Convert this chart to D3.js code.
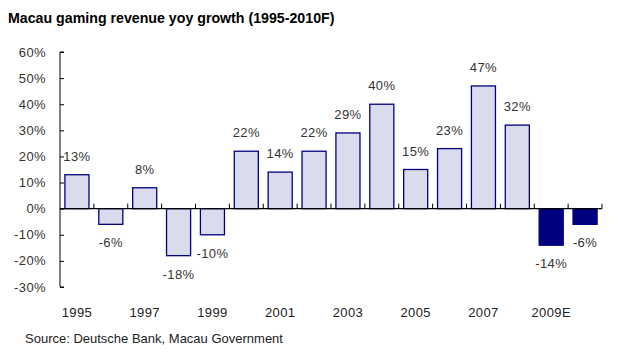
<!DOCTYPE html>
<html>
<head>
<meta charset="utf-8">
<script src="https://cdn.jsdelivr.net/npm/d3@7/dist/d3.min.js"></script>
<style>
  body { margin: 0; background: #fff; }
  svg text { font-family: "Liberation Sans", Arial, sans-serif; }
</style>
</head>
<body>
<svg id="chart" width="635" height="361"></svg>
<script>
// Data
const years = ['1995', '1996', '1997', '1998', '1999', '2000', '2001', '2002',
               '2003', '2004', '2005', '2006', '2007', '2008', '2009E', '2010F'];
const growth = [13, -6, 8, -18, -10, 22, 14, 22, 29, 40, 15, 23, 47, 32, -14, -6];
const forecast = [false, false, false, false, false, false, false, false,
                  false, false, false, false, false, false, true, true];
const yTicks = [60, 50, 40, 30, 20, 10, 0, -10, -20, -30];
const xLabels = ['1995', '1997', '1999', '2001', '2003', '2005', '2007', '2009E'];

const svg = d3.select('#chart');
const plot = { left: 60, right: 602, top: 52, bottom: 287 };

const x = d3.scaleBand().domain(years).range([plot.left, plot.right]).paddingInner(0.29).paddingOuter(0.145);
const y = d3.scaleLinear().domain([-30, 60]).range([plot.bottom, plot.top]);

// title
svg.append('text')
    .attr('x', 8).attr('y', 23)
    .attr('font-size', 14.2).attr('font-weight', 'bold').attr('fill', '#000')
    .text('Macau gaming revenue yoy growth (1995-2010F)');

// y axis
const yAxis = d3.axisRight(y).tickValues(yTicks).tickSize(4).tickFormat('');
const gy = svg.append('g').attr('transform', `translate(${plot.left},0)`).call(yAxis);
gy.select('.domain').attr('stroke', '#000').attr('d', `M4,${plot.top}H0V${plot.bottom}H4`);
gy.selectAll('.tick line').attr('stroke', '#000');

svg.append('g').selectAll('text').data(yTicks).join('text')
    .attr('x', 46).attr('y', d => y(d) + 4.5)
    .attr('text-anchor', 'end').attr('font-size', 13).attr('fill', '#333')
    .attr('letter-spacing', 0.4)
    .text(d => d + '%');

// bars
svg.append('g').selectAll('rect').data(growth).join('rect')
    .attr('x', (d, i) => x(years[i]))
    .attr('width', x.bandwidth())
    .attr('y', d => y(Math.max(0, d)))
    .attr('height', d => Math.abs(y(d) - y(0)))
    .attr('fill', (d, i) => forecast[i] ? '#000080' : '#dadcee')
    .attr('stroke', '#000080').attr('stroke-width', 1.3);

// x axis line at zero with upward ticks at category boundaries
const step = x.step();
const bounds = d3.range(years.length + 1).map(i => plot.left + i * step);
svg.append('line')
    .attr('x1', plot.left).attr('x2', plot.right).attr('y1', y(0)).attr('y2', y(0))
    .attr('stroke', '#000').attr('stroke-width', 1.3);
svg.append('g').selectAll('line').data(bounds.slice(1)).join('line')
    .attr('x1', d => d).attr('x2', d => d)
    .attr('y1', y(0)).attr('y2', y(0) - 5)
    .attr('stroke', '#000');

// value labels
svg.append('g').selectAll('text').data(growth).join('text')
    .attr('x', (d, i) => x(years[i]) + x.bandwidth() / 2)
    .attr('y', d => d >= 0 ? y(d) - 14 : y(d) + 23)
    .attr('text-anchor', 'middle').attr('font-size', 13).attr('fill', '#333')
    .attr('letter-spacing', 0.4)
    .text(d => d + '%');

// x labels
svg.append('g').selectAll('text').data(xLabels).join('text')
    .attr('x', d => x(d) + x.bandwidth() / 2)
    .attr('y', 317)
    .attr('text-anchor', 'middle').attr('font-size', 13).attr('fill', '#222')
    .attr('letter-spacing', 0.4)
    .text(d => d);

// source
svg.append('text')
    .attr('x', 25).attr('y', 343)
    .attr('font-size', 13).attr('fill', '#222')
    .text('Source: Deutsche Bank, Macau Government');
</script>
</body>
</html>
